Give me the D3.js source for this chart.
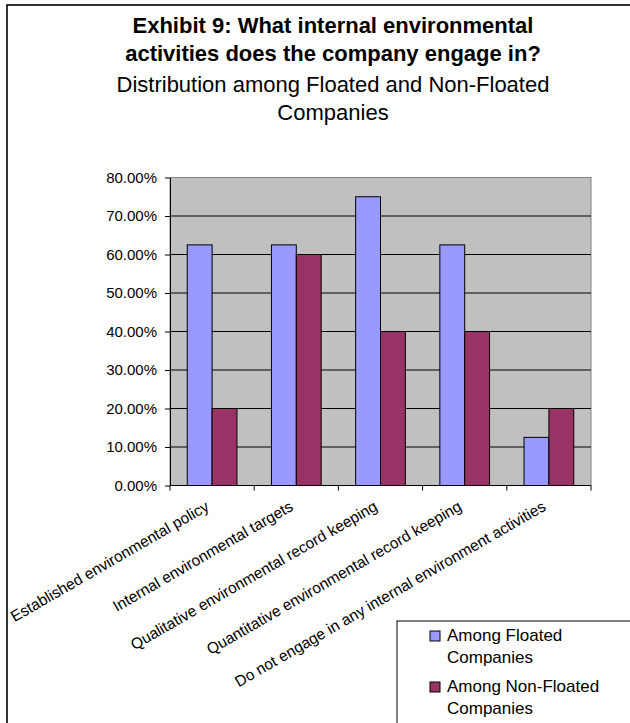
<!DOCTYPE html>
<html>
<head>
<meta charset="utf-8">
<script src="https://cdn.jsdelivr.net/npm/d3@7"></script>
<style>
  html, body { margin: 0; padding: 0; background: #fff; }
  svg { display: block; font-family: "Liberation Sans", Arial, sans-serif; }
</style>
</head>
<body>
<svg id="chart" width="630" height="723"></svg>
<script>
// ---- data ----
const categories = [
  "Established environmental policy",
  "Internal environmental targets",
  "Qualitative environmental record keeping",
  "Quantitative environmental record keeping",
  "Do not engage in any internal environment activities"
];
const seriesNames = ["Among Floated Companies", "Among Non-Floated Companies"];
const legendLines = [["Among Floated", "Companies"], ["Among Non-Floated", "Companies"]];
const floated = [0.625, 0.625, 0.75, 0.625, 0.125];
const nonFloated = [0.20, 0.60, 0.40, 0.40, 0.20];
const yTicks = [0, 0.1, 0.2, 0.3, 0.4, 0.5, 0.6, 0.7, 0.8];
const titleLines = ["Exhibit 9: What internal environmental", "activities does the company engage in?"];
const subtitleLines = ["Distribution among Floated and Non-Floated", "Companies"];
const colors = ["#9999FF", "#993366"];

// ---- layout ----
const svg = d3.select("#chart");
const plot = { left: 170, right: 591, top: 177.5, bottom: 485.5 };

// chart area border
svg.append("rect")
  .attr("x", 7).attr("y", 5).attr("width", 680).attr("height", 760)
  .attr("fill", "#fff").attr("stroke", "#000").attr("stroke-width", 1.6);

// titles
const cx = 333;
titleLines.forEach((t, i) => {
  svg.append("text").attr("x", cx).attr("y", 33 + i * 28)
    .attr("text-anchor", "middle").attr("font-size", 22).attr("font-weight", "bold")
    .attr("fill", "#000").text(t);
});
subtitleLines.forEach((t, i) => {
  svg.append("text").attr("x", cx).attr("y", 92 + i * 28)
    .attr("text-anchor", "middle").attr("font-size", 22)
    .attr("fill", "#000").text(t);
});

// scales
const x = d3.scaleBand().domain(categories).range([plot.left, plot.right]).padding(0);
const xs = d3.scaleBand().domain(seriesNames).range([0, x.bandwidth()])
  .paddingInner(0).paddingOuter(0.694);
const y = d3.scaleLinear().domain([0, 0.8]).range([plot.bottom, plot.top]);

// plot area
svg.append("rect")
  .attr("x", plot.left).attr("y", plot.top)
  .attr("width", plot.right - plot.left).attr("height", plot.bottom - plot.top)
  .attr("fill", "#C0C0C0").attr("stroke", "#808080").attr("stroke-width", 1);

// gridlines
svg.append("g").selectAll("line").data(yTicks.filter(d => d > 0 && d < 0.8)).join("line")
  .attr("x1", plot.left).attr("x2", plot.right)
  .attr("y1", d => y(d)).attr("y2", d => y(d))
  .attr("stroke", "#000").attr("stroke-width", 1);

// bars
const seriesData = [floated, nonFloated];
seriesData.forEach((vals, si) => {
  svg.append("g").selectAll("rect").data(vals).join("rect")
    .attr("x", (d, i) => x(categories[i]) + xs(seriesNames[si]))
    .attr("width", xs.bandwidth())
    .attr("y", d => y(d))
    .attr("height", d => y(0) - y(d))
    .attr("fill", colors[si])
    .attr("stroke", "#000").attr("stroke-width", 1);
});

// y axis
const yAxis = d3.axisLeft(y).tickValues(yTicks).tickFormat(d3.format(".2%"))
  .tickSizeInner(5).tickSizeOuter(0).tickPadding(8);
const gy = svg.append("g").attr("transform", `translate(${plot.left},0)`).call(yAxis);
gy.select(".domain").attr("stroke", "#000");
gy.selectAll(".tick line").attr("stroke", "#000");
gy.selectAll(".tick text").attr("font-size", 15).attr("fill", "#000")
  .attr("font-family", "Liberation Sans, Arial, sans-serif");

// x axis line + boundary ticks
svg.append("line").attr("x1", plot.left).attr("x2", plot.right)
  .attr("y1", plot.bottom).attr("y2", plot.bottom).attr("stroke", "#000");
const bounds = categories.map(c => x(c)).concat([plot.right]);
svg.append("g").selectAll("line").data(bounds).join("line")
  .attr("x1", d => d).attr("x2", d => d)
  .attr("y1", plot.bottom).attr("y2", plot.bottom + 5)
  .attr("stroke", "#000");

// category labels
svg.append("g").selectAll("text").data(categories).join("text")
  .attr("transform", d => `translate(${x(d) + x.bandwidth() / 2 - 2},${plot.bottom + 24}) rotate(-30)`)
  .attr("text-anchor", "end")
  .attr("font-size", 15.5).attr("fill", "#000")
  .text(d => d);

// legend
const lg = svg.append("g");
lg.append("rect").attr("x", 397).attr("y", 621).attr("width", 300).attr("height", 200)
  .attr("fill", "#fff").attr("stroke", "#000").attr("stroke-width", 1);
legendLines.forEach((lines, i) => {
  const top = 631 + i * 51;
  lg.append("rect").attr("x", 430).attr("y", top).attr("width", 10).attr("height", 10)
    .attr("fill", colors[i]).attr("stroke", "#000").attr("stroke-width", 1);
  lines.forEach((t, j) => {
    lg.append("text").attr("x", 447).attr("y", top + 10 + j * 22)
      .attr("font-size", 17).attr("fill", "#000").text(t);
  });
});
</script>
</body>
</html>
